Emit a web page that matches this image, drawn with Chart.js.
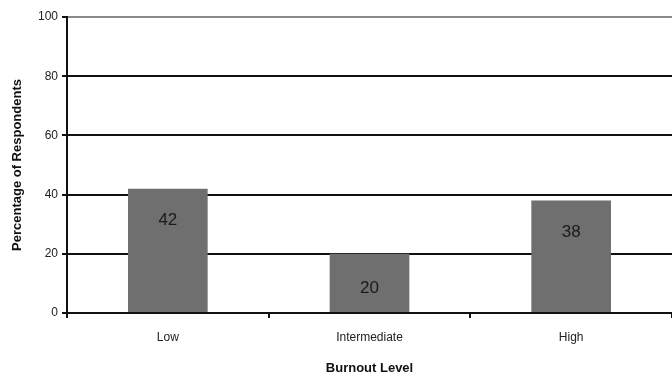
<!DOCTYPE html>
<html>
<head>
<meta charset="utf-8">
<script src="https://cdn.jsdelivr.net/npm/chart.js@4/dist/chart.umd.min.js"></script>
<style>
  html, body { margin: 0; padding: 0; background: #fff; }
  #wrap { width: 672px; height: 376px; position: relative; }
</style>
</head>
<body>
<div id="wrap"><canvas id="c" width="672" height="376"></canvas></div>
<script>
// Burnout level distribution
const categories = ['Low', 'Intermediate', 'High'];
const percentages = [42, 20, 38];
const yTicks = [0, 20, 40, 60, 80, 100];

// Writes each bar's value inside the bar, near its top
const barValueLabels = {
  id: 'barValueLabels',
  afterDatasetsDraw(chart) {
    const ctx = chart.ctx;
    const meta = chart.getDatasetMeta(0);
    ctx.save();
    ctx.font = '17px "Liberation Sans", Arial, sans-serif';
    ctx.fillStyle = '#1a1a1a';
    ctx.textAlign = 'center';
    ctx.textBaseline = 'middle';
    meta.data.forEach((bar, i) => {
      const offset = percentages[i] <= 25 ? 35 : 32;
      ctx.fillText(String(percentages[i]), bar.x, bar.y + offset);
    });
    ctx.restore();
  }
};

new Chart(document.getElementById('c'), {
  type: 'bar',
  data: {
    labels: categories,
    datasets: [{
      data: percentages,
      backgroundColor: '#6f6f6f',
      borderWidth: 0,
      barPercentage: 0.395,
      categoryPercentage: 1.0
    }]
  },
  options: {
    responsive: false,
    animation: false,
    devicePixelRatio: 1,
    layout: { padding: { top: 17, right: -10, bottom: 0, left: 0 } },
    plugins: {
      legend: { display: false },
      tooltip: { enabled: false }
    },
    scales: {
      y: {
        min: 0,
        max: 100,
        afterBuildTicks(axis) {
          axis.ticks = yTicks.map(v => ({ value: v }));
        },
        afterFit(axis) { axis.width = 67; },
        border: { display: true, color: '#111', width: 2 },
        grid: {
          color: ctx => (ctx.tick && ctx.tick.value === 100) ? '#8a8a8a' : '#111',
          lineWidth: 2,
          drawTicks: true,
          tickLength: 5,
          tickColor: '#111'
        },
        ticks: {
          color: '#222',
          padding: 4,
          font: { family: '"Liberation Sans", Arial, sans-serif', size: 12 }
        },
        title: {
          display: true,
          text: 'Percentage of Respondents',
          color: '#111',
          padding: { top: 10, bottom: 0 },
          font: { family: '"Liberation Sans", Arial, sans-serif', size: 13, weight: 'bold' }
        }
      },
      x: {
        offset: true,
        border: { display: false },
        grid: {
          offset: true,
          drawOnChartArea: false,
          drawTicks: true,
          tickLength: 5,
          tickColor: '#111',
          lineWidth: 2
        },
        ticks: {
          color: '#222',
          padding: 12,
          font: { family: '"Liberation Sans", Arial, sans-serif', size: 12 }
        },
        title: {
          display: true,
          text: 'Burnout Level',
          color: '#111',
          padding: { top: 4, bottom: 0 },
          font: { family: '"Liberation Sans", Arial, sans-serif', size: 13, weight: 'bold' }
        }
      }
    }
  },
  plugins: [barValueLabels]
});
</script>
</body>
</html>
